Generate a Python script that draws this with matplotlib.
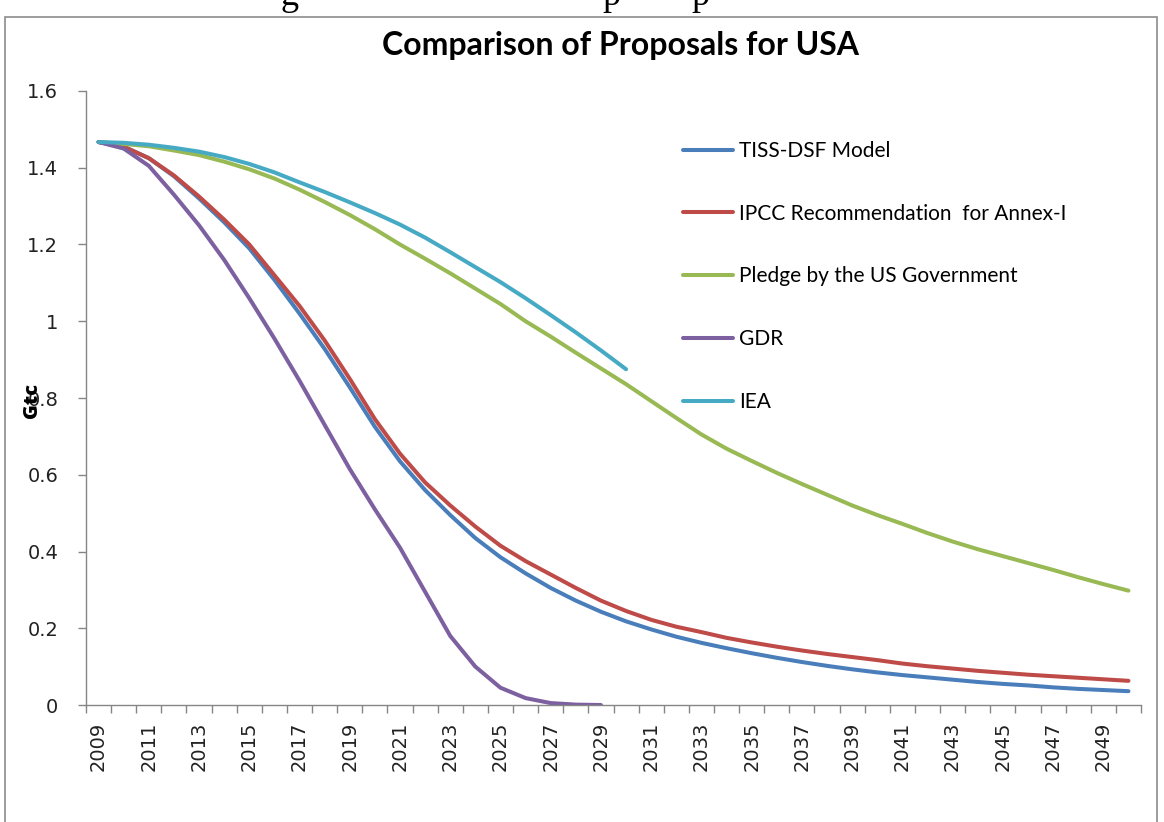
import numpy as np
import matplotlib
matplotlib.use('Agg')
import matplotlib.pyplot as plt
from matplotlib.patches import Rectangle
from matplotlib.ticker import FixedLocator, FuncFormatter

years = list(range(2009, 2051))

tiss_dsf = [1.467, 1.455, 1.425, 1.378, 1.320, 1.258, 1.190, 1.108, 1.020, 0.928,
            0.828, 0.725, 0.635, 0.560, 0.495, 0.435, 0.385, 0.343, 0.305, 0.272,
            0.243, 0.218, 0.197, 0.178, 0.162, 0.148, 0.135, 0.123, 0.112, 0.102,
            0.093, 0.085, 0.078, 0.072, 0.066, 0.060, 0.055, 0.051, 0.046, 0.042,
            0.039, 0.036]

ipcc = [1.467, 1.455, 1.425, 1.380, 1.325, 1.265, 1.200, 1.120, 1.040, 0.950,
        0.850, 0.745, 0.655, 0.580, 0.520, 0.465, 0.415, 0.375, 0.340, 0.305,
        0.272, 0.245, 0.222, 0.204, 0.190, 0.175, 0.163, 0.152, 0.142, 0.133,
        0.125, 0.117, 0.108, 0.101, 0.095, 0.089, 0.084, 0.079, 0.075, 0.071,
        0.067, 0.063]

us_pledge = [1.467, 1.462, 1.456, 1.445, 1.433, 1.416, 1.396, 1.372, 1.343, 1.311,
             1.277, 1.240, 1.200, 1.163, 1.125, 1.085, 1.045, 1.000, 0.960, 0.918,
             0.877, 0.836, 0.792, 0.748, 0.705, 0.668, 0.636, 0.605, 0.576, 0.548,
             0.520, 0.495, 0.472, 0.448, 0.426, 0.406, 0.388, 0.370, 0.352, 0.333,
             0.315, 0.298]

# GDR runs 2009-2029
gdr = [1.467, 1.450, 1.405, 1.330, 1.250, 1.160, 1.060, 0.955, 0.845, 0.730,
       0.615, 0.510, 0.410, 0.295, 0.180, 0.100, 0.045, 0.018, 0.005, 0.001,
       0.000]

# IEA runs 2009-2030
iea = [1.467, 1.465, 1.460, 1.452, 1.442, 1.428, 1.410, 1.388, 1.362, 1.337,
       1.310, 1.282, 1.252, 1.218, 1.180, 1.141, 1.102, 1.060, 1.016, 0.971,
       0.924, 0.875]

series = [
    ('TISS-DSF Model', tiss_dsf, '#4A7EBB'),
    ('IPCC Recommendation  for Annex-I', ipcc, '#BE4B48'),
    ('Pledge by the US Government', us_pledge, '#98B954'),
    ('GDR', gdr, '#7D60A0'),
    ('IEA', iea, '#46AAC5'),
]

W, H = 1164, 822
fig = plt.figure(figsize=(W / 100, H / 100), dpi=100)
fig.patch.set_facecolor('white')

# chart frame
fig.patches.append(Rectangle((5 / W, -0.05), 1152 / W, 1.05 - 17 / H,
                             transform=fig.transFigure, fill=False,
                             edgecolor='#8c8c8c', linewidth=1.2))

# bottoms of the caption letters above the chart
for xp, ch in [(281, 'g'), (602, 'p'), (691, 'p')]:
    fig.text(xp / W, 1 - 5 / H, ch, family='Liberation Serif', fontsize=26,
             va='baseline', ha='left', color='black')

ax = fig.add_axes([86 / W, 1 - 705 / H, (1141 - 86) / W, (705 - 91) / H])

for name, vals, col in series:
    x = np.arange(len(vals))
    ax.plot(x, vals, color=col, linewidth=2.9, label=name,
            solid_capstyle='round', solid_joinstyle='round')

ax.set_xlim(-0.5, len(years) - 0.5)
ax.set_ylim(0, 1.6)

axis_col = '#868686'
for side in ['top', 'right']:
    ax.spines[side].set_visible(False)
for side in ['left', 'bottom']:
    ax.spines[side].set_color(axis_col)
    ax.spines[side].set_linewidth(1.0)

ax.set_yticks(np.arange(0, 1.61, 0.2))
ax.yaxis.set_major_formatter(FuncFormatter(lambda v, p: ('%g' % round(v, 1))))
ax.tick_params(axis='y', direction='out', length=6, width=1, color=axis_col,
               labelsize=14, pad=14, labelcolor='#222222')

ax.xaxis.set_major_locator(FixedLocator(np.arange(0, len(years), 2)))
ax.set_xticklabels([str(y) for y in years[::2]], rotation=90)
ax.xaxis.set_minor_locator(FixedLocator(np.arange(-0.5, len(years), 1.0)))
ax.tick_params(axis='x', which='major', length=0, labelsize=14, pad=12,
               labelcolor='#222222')
ax.tick_params(axis='x', which='minor', direction='out', length=6, width=1,
               color=axis_col)

fig.text(32 / W, 1 - 400 / H, 'Gtc', rotation=90, fontsize=14.5,
         fontweight='heavy', family='Open Sans', ha='center', va='center')

fig.text(620 / W, 1 - 46 / H, 'Comparison of Proposals for USA', fontsize=23,
         fontweight='bold', family='Lato', ha='center', va='center')

leg = ax.legend(loc='upper left', bbox_to_anchor=(683 / W, 1 - 141 / H),
                bbox_transform=fig.transFigure, frameon=False,
                prop={'family': 'Lato', 'size': 15},
                handlelength=2.4, handletextpad=0.3, labelspacing=2.05,
                borderpad=0, borderaxespad=0)

fig.savefig('out.png', dpi=100, facecolor='white')
